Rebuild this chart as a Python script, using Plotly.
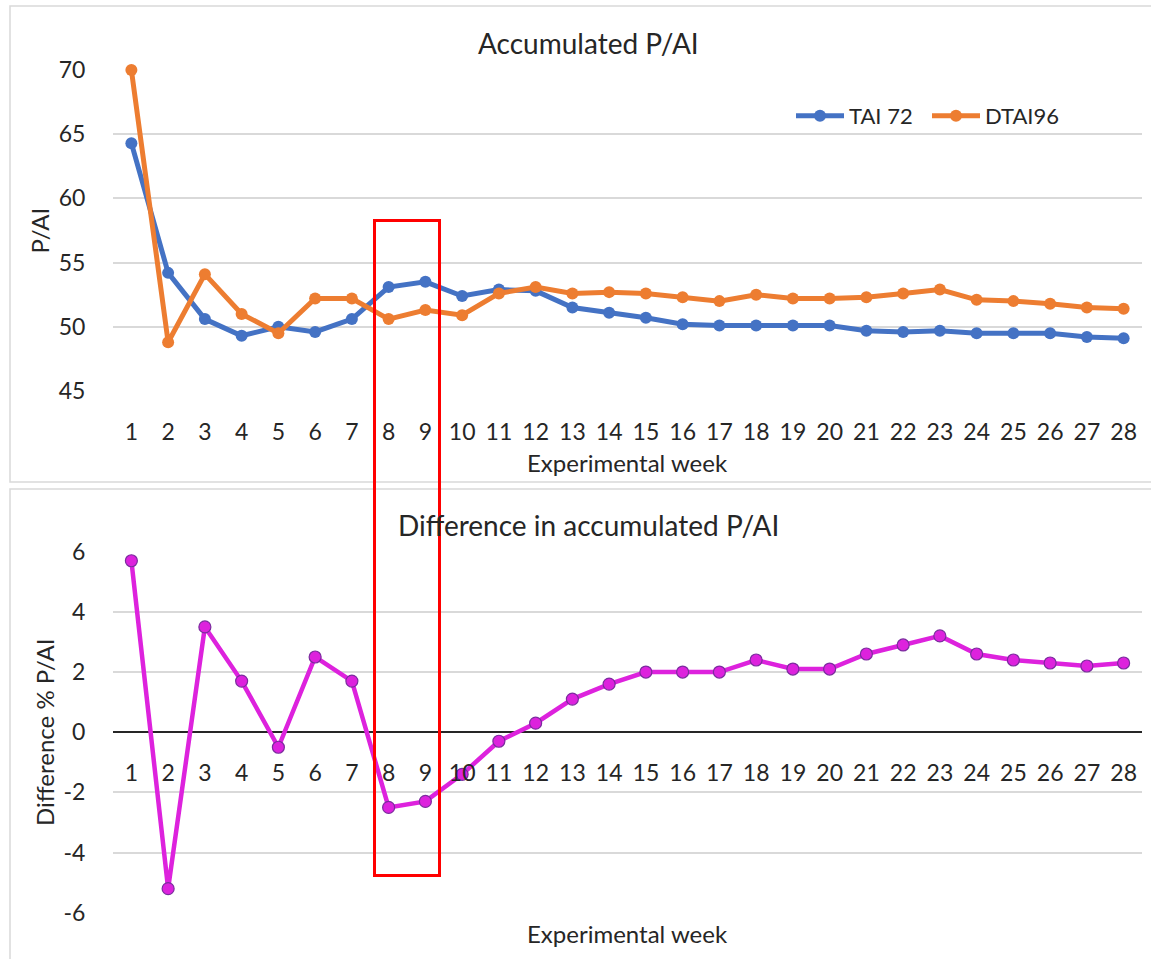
import plotly.graph_objects as go

# ---- data ----
weeks = list(range(1, 29))
week_labels = [str(w) for w in weeks]
tai72 = [64.3, 54.2, 50.6, 49.3, 50.0, 49.6, 50.6, 53.1, 53.5, 52.4, 52.9, 52.8, 51.5, 51.1,
         50.7, 50.2, 50.1, 50.1, 50.1, 50.1, 49.7, 49.6, 49.7, 49.5, 49.5, 49.5, 49.2, 49.1]
dtai96 = [70.0, 48.8, 54.1, 51.0, 49.5, 52.2, 52.2, 50.6, 51.3, 50.9, 52.6, 53.1, 52.6, 52.7,
          52.6, 52.3, 52.0, 52.5, 52.2, 52.2, 52.3, 52.6, 52.9, 52.1, 52.0, 51.8, 51.5, 51.4]
diff = [5.7, -5.2, 3.5, 1.7, -0.5, 2.5, 1.7, -2.5, -2.3, -1.4, -0.3, 0.3, 1.1, 1.6,
        2.0, 2.0, 2.0, 2.4, 2.1, 2.1, 2.6, 2.9, 3.2, 2.6, 2.4, 2.3, 2.2, 2.3]
top_ticks = [45, 50, 55, 60, 65, 70]
top_tick_labels = ["45", "50", "55", "60", "65", "70"]
diff_ticks = [-6, -4, -2, 0, 2, 4, 6]
diff_tick_labels = ["-6", "-4", "-2", "0", "2", "4", "6"]

W, H = 1151, 959
FONT = "Lato"
TXT = "#262626"
GRID = "#d9d9d9"
TICK = 23


def px(x):
    return x / W


def py(y):
    return 1 - y / H


fig = go.Figure()
fig.add_trace(go.Scatter(x=weeks, y=tai72, name="TAI 72", mode="lines+markers",
                         line=dict(color="#4472C4", width=5),
                         marker=dict(color="#4472C4", size=12),
                         cliponaxis=False, xaxis="x", yaxis="y"))
fig.add_trace(go.Scatter(x=weeks, y=dtai96, name="DTAI96", mode="lines+markers",
                         line=dict(color="#ED7D31", width=5),
                         marker=dict(color="#ED7D31", size=12),
                         cliponaxis=False, xaxis="x", yaxis="y"))
fig.add_trace(go.Scatter(x=weeks, y=diff, name="Difference", mode="lines+markers",
                         line=dict(color="#DD22DD", width=4.5),
                         marker=dict(color="#DD22DD", size=12,
                                     line=dict(color="#7B2C9E", width=1.2)),
                         cliponaxis=False, xaxis="x2", yaxis="y2", showlegend=False))

xdom = [px(113), px(1142)]
fig.update_layout(
    width=W, height=H,
    margin=dict(l=0, r=0, t=0, b=0, autoexpand=False),
    paper_bgcolor="white", plot_bgcolor="white",
    font=dict(family=FONT, color=TXT, size=TICK),
    xaxis=dict(domain=xdom, anchor="y", range=[0.5, 28.5],
               tickvals=weeks, ticktext=week_labels, showgrid=False,
               zeroline=False, showline=False, ticks="outside", ticklen=20,
               tickcolor="rgba(0,0,0,0)", tickfont=dict(size=TICK), automargin=False),
    yaxis=dict(domain=[py(391), py(70)], anchor="x", range=[45, 70],
               tickvals=top_ticks, ticktext=top_tick_labels,
               showgrid=True, gridcolor=GRID, gridwidth=1.5, zeroline=False,
               showline=False, ticks="outside", ticklen=22,
               tickcolor="rgba(0,0,0,0)", tickfont=dict(size=TICK), automargin=False),
    xaxis2=dict(domain=xdom, anchor="free", position=py(732.7), range=[0.5, 28.5],
                tickvals=weeks, ticktext=week_labels, showgrid=False,
                zeroline=False, showline=False, ticks="outside", ticklen=20,
                tickcolor="rgba(0,0,0,0)", tickfont=dict(size=TICK), automargin=False),
    yaxis2=dict(domain=[py(912.7), py(551.7)], anchor="x2", range=[-6, 6],
                tickvals=diff_ticks, ticktext=diff_tick_labels,
                showgrid=True, gridcolor=GRID, gridwidth=1.5,
                zeroline=True, zerolinecolor="#262626", zerolinewidth=2,
                showline=False, ticks="outside", ticklen=22,
                tickcolor="rgba(0,0,0,0)", tickfont=dict(size=TICK), automargin=False),
    legend=dict(orientation="h", x=px(791), xanchor="left", y=py(116), yanchor="middle",
                font=dict(size=22), bgcolor="rgba(0,0,0,0)", itemwidth=48,
                entrywidth=73, entrywidthmode="pixels"),
    showlegend=True,
)

annots = [
    dict(text="Accumulated P/AI", x=px(588), y=py(43), size=28),
    dict(text="Experimental week", x=px(627), y=py(462), size=24),
    dict(text="Difference in accumulated P/AI", x=px(588), y=py(525), size=28),
    dict(text="Experimental week", x=px(627), y=py(933), size=24),
]
for a in annots:
    fig.add_annotation(text=a["text"], x=a["x"], y=a["y"], xref="paper", yref="paper",
                       xanchor="center", yanchor="middle", showarrow=False,
                       font=dict(size=a["size"], family=FONT, color=TXT))
for t, xc, yc in [("P/AI", 39, 230.5), ("Difference % P/AI", 44, 732)]:
    fig.add_annotation(text=t, x=px(xc), y=py(yc), xref="paper", yref="paper",
                       xanchor="center", yanchor="middle", showarrow=False, textangle=-90,
                       font=dict(size=24, family=FONT, color=TXT))

# chart-area borders
fig.add_shape(type="rect", xref="paper", yref="paper", x0=px(10), x1=px(1165),
              y0=py(482), y1=py(6), line=dict(color="#d9d9d9", width=1.5),
              fillcolor="rgba(0,0,0,0)", layer="below")
fig.add_shape(type="rect", xref="paper", yref="paper", x0=px(10), x1=px(1165),
              y0=py(975), y1=py(489), line=dict(color="#d9d9d9", width=1.5),
              fillcolor="rgba(0,0,0,0)", layer="below")
# red highlight box
fig.add_shape(type="rect", xref="paper", yref="paper", x0=px(374.5), x1=px(439.5),
              y0=py(875.5), y1=py(220.5), line=dict(color="#FF0000", width=3),
              fillcolor="rgba(0,0,0,0)", layer="above")

fig.write_html("out.html")
